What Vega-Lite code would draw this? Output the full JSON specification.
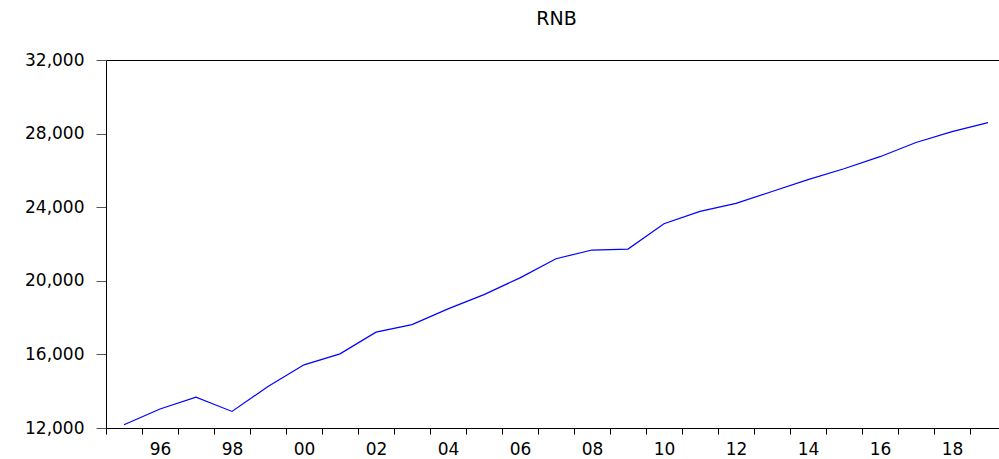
{
  "$schema": "https://vega.github.io/schema/vega-lite/v6.json",
  "autosize": {"type": "none"},
  "padding": {"left": 106, "top": 60, "right": 0, "bottom": 31},
  "width": 893,
  "height": 368,
  "background": "white",
  "title": {
    "text": "RNB",
    "font": "DejaVu Sans",
    "fontSize": 19,
    "fontWeight": "normal",
    "color": "black",
    "baseline": "alphabetic",
    "offset": 7,
    "dx": 4
  },
  "config": {
    "view": {"stroke": null},
    "axis": {
      "labelFont": "DejaVu Sans",
      "labelFontSize": 17,
      "labelColor": "black",
      "domainColor": "black",
      "domainWidth": 1,
      "grid": false,
      "title": null
    }
  },
  "data": {
    "values": [
      {"year": 1995, "RNB": 12180},
      {"year": 1996, "RNB": 13030},
      {"year": 1997, "RNB": 13680},
      {"year": 1998, "RNB": 12900},
      {"year": 1999, "RNB": 14257},
      {"year": 2000, "RNB": 15434},
      {"year": 2001, "RNB": 16030},
      {"year": 2002, "RNB": 17208},
      {"year": 2003, "RNB": 17620},
      {"year": 2004, "RNB": 18472},
      {"year": 2005, "RNB": 19247},
      {"year": 2006, "RNB": 20160},
      {"year": 2007, "RNB": 21200},
      {"year": 2008, "RNB": 21672},
      {"year": 2009, "RNB": 21726},
      {"year": 2010, "RNB": 23099},
      {"year": 2011, "RNB": 23771},
      {"year": 2012, "RNB": 24205},
      {"year": 2013, "RNB": 24856},
      {"year": 2014, "RNB": 25500},
      {"year": 2015, "RNB": 26090},
      {"year": 2016, "RNB": 26745},
      {"year": 2017, "RNB": 27514},
      {"year": 2018, "RNB": 28111},
      {"year": 2019, "RNB": 28599}
    ]
  },
  "resolve": {"axis": {"x": "independent"}},
  "layer": [
    {
      "mark": {"type": "line", "color": "#0000ff", "strokeWidth": 1.2, "clip": true},
      "encoding": {
        "x": {
          "field": "year",
          "type": "quantitative",
          "scale": {"domain": [1994.5, 2019.3056], "nice": false, "zero": false},
          "axis": {
            "orient": "bottom",
            "values": [1994.5, 1995.5, 1996, 1996.5, 1997.5, 1998, 1998.5, 1999.5, 2000, 2000.5, 2001.5, 2002, 2002.5, 2003.5, 2004, 2004.5, 2005.5, 2006, 2006.5, 2007.5, 2008, 2008.5, 2009.5, 2010, 2010.5, 2011.5, 2012, 2012.5, 2013.5, 2014, 2014.5, 2015.5, 2016, 2016.5, 2017.5, 2018, 2018.5],
            "labelExpr": "datum.value % 2 == 0 ? slice('0' + (datum.value % 100), -2) : ''",
            "tickOpacity": {"condition": {"test": "datum.value % 1 == 0", "value": 0}, "value": 1},
            "tickColor": "black",
            "tickSize": 6,
            "labelPadding": 7,
            "labelOverlap": false,
            "labelFlush": false,
            "labelBound": false
          }
        },
        "y": {
          "field": "RNB",
          "type": "quantitative",
          "scale": {"domain": [12000, 32000], "nice": false, "zero": false},
          "axis": {
            "orient": "left",
            "values": [12000, 16000, 20000, 24000, 28000, 32000],
            "format": ",d",
            "tickColor": "#555555",
            "tickSize": 10,
            "labelPadding": 12
          }
        }
      }
    },
    {
      "mark": {"type": "line", "opacity": 0},
      "encoding": {
        "x": {
          "field": "year",
          "type": "quantitative",
          "axis": {"orient": "top", "labels": false, "ticks": false, "domain": true}
        },
        "y": {"field": "RNB", "type": "quantitative"}
      }
    }
  ]
}
